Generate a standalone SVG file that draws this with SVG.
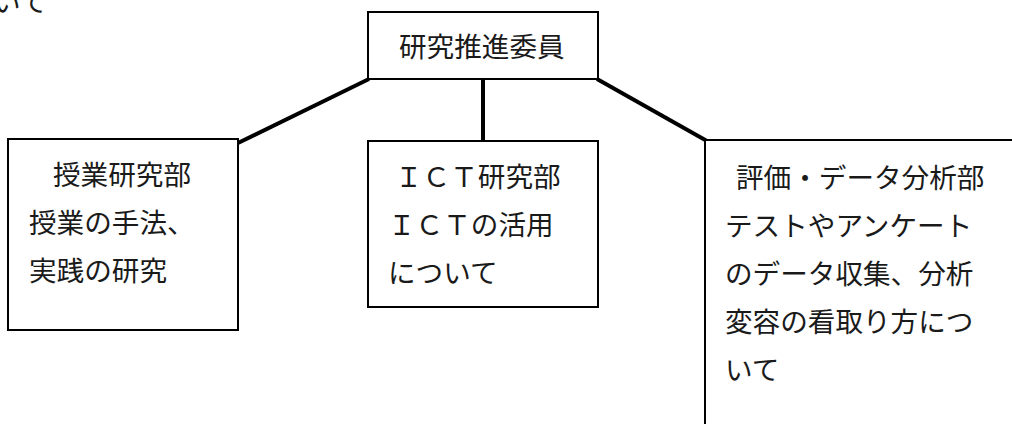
<svg xmlns="http://www.w3.org/2000/svg" width="1012" height="424" viewBox="0 0 1012 424">
<style>
.box{fill:#fff;stroke:#000;stroke-width:2}
.t{font-family:"Noto Sans CJK JP","Noto Sans CJK SC",sans-serif;font-size:27.6px;fill:#1a1a1a}
.c{stroke:#000;stroke-width:4;fill:none}
</style>
<rect width="1012" height="424" fill="#fff"/>
<text class="t" x="-7" y="12">いて</text>
<g id="connectors">
<line class="c" x1="369" y1="79" x2="238" y2="143"/>
<line class="c" x1="483" y1="79" x2="483" y2="141"/>
<line class="c" x1="597" y1="79" x2="707" y2="141"/>
</g>
<g id="node-top">
<rect class="box" x="368" y="12" width="230" height="67"/>
<text class="t" x="399" y="57">研究推進委員</text>
</g>
<g id="node-left">
<rect class="box" x="8" y="139" width="230" height="191"/>
<text class="t" x="53" y="185">授業研究部</text>
<text class="t" x="29" y="233">授業の手法、</text>
<text class="t" x="29" y="281">実践の研究</text>
</g>
<g id="node-mid">
<rect class="box" x="368" y="141" width="230" height="166"/>
<text class="t" x="395" y="187">ＩＣＴ研究部</text>
<text class="t" x="388" y="235">ＩＣＴの活用</text>
<text class="t" x="388" y="283">について</text>
</g>
<g id="node-right">
<rect class="box" x="705" y="140" width="320" height="300"/>
<text class="t" x="736" y="188">評価・データ分析部</text>
<text class="t" x="725" y="236">テストやアンケート</text>
<text class="t" x="725" y="284">のデータ収集、分析</text>
<text class="t" x="725" y="332">変容の看取り方につ</text>
<text class="t" x="725" y="380">いて</text>
</g>
</svg>
